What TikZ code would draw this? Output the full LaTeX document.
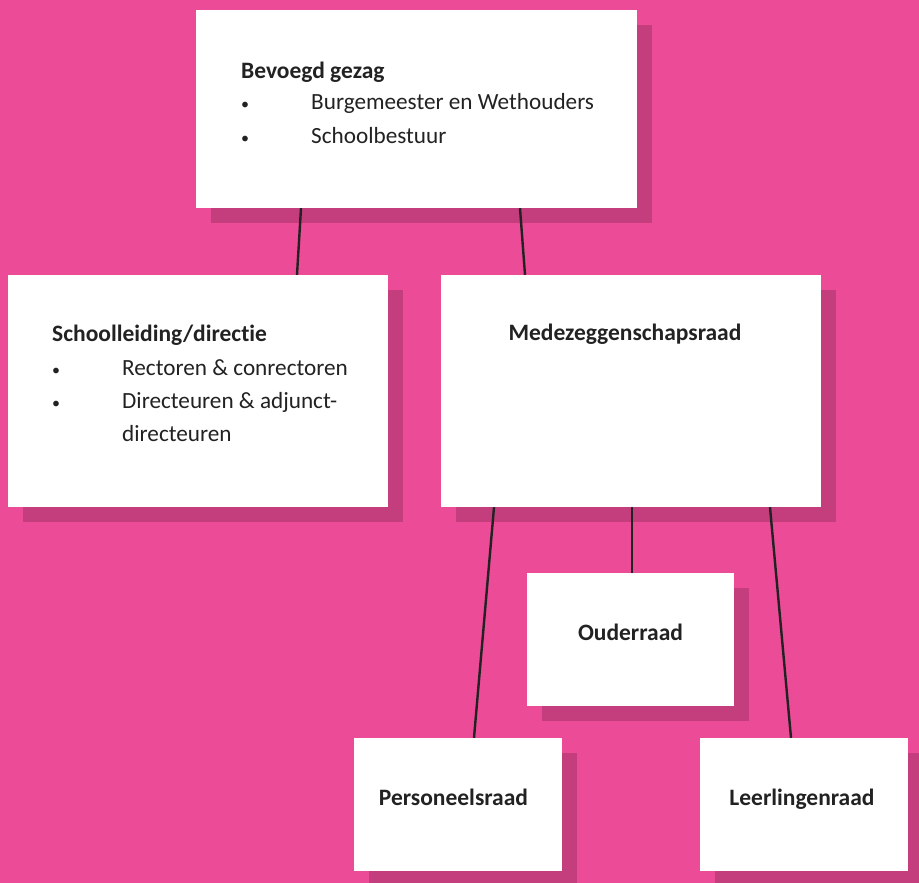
\documentclass[tikz,border=0pt]{standalone}
\usepackage{fontspec}
\setmainfont[Ligatures={NoCommon}]{Carlito}
\usetikzlibrary{calc}
\definecolor{bgpink}{HTML}{EC4B98}
\definecolor{shadowpink}{HTML}{C43E7E}
\definecolor{ink}{HTML}{222222}
\pgfdeclarelayer{shadowlayer}
\pgfdeclarelayer{linelayer}
\pgfsetlayers{shadowlayer,linelayer,main}
\begin{document}
\begin{tikzpicture}[x=1pt,y=-1pt,
  box/.style={fill=white, inner sep=0pt, draw=none},
  conn/.style={draw=ink, line width=2.4pt},
  lbl/.style={inner sep=0pt, anchor=base west, text=ink, font=\fontsize{23.2}{28}\selectfont},
  ttl/.style={inner sep=0pt, text=ink, font=\fontsize{23.5}{28}\selectfont\bfseries},
  bul/.style={inner sep=0pt, anchor=base west, text=ink, font=\fontsize{16}{24}\selectfont}]
\useasboundingbox (0,0) rectangle (919,883);
% boxes
\node[box, minimum width=441pt, minimum height=198pt] (top) at (416.5,109) {};
\node[box, minimum width=380pt, minimum height=232pt] (left) at (198,391) {};
\node[box, minimum width=380pt, minimum height=232pt] (mede) at (631,391) {};
\node[box, minimum width=207pt, minimum height=133pt] (ouder) at (630.5,639.5) {};
\node[box, minimum width=208pt, minimum height=133pt] (pers) at (458,804.5) {};
\node[box, minimum width=208pt, minimum height=133pt] (leer) at (804,804.5) {};
% background and shadows
\begin{pgfonlayer}{shadowlayer}
\fill[bgpink] (0,0) rectangle (919,883);
\foreach \n in {top,left,mede,ouder,pers,leer}{
  \fill[shadowpink] ($(\n.north west)+(15,15)$) rectangle ($(\n.south east)+(15,15)$);
}
\end{pgfonlayer}
% connectors
\begin{pgfonlayer}{linelayer}
\draw[conn] ([xshift=-115.5pt]top.south) -- ([xshift=99pt]left.north);
\draw[conn] ([xshift=103.5pt]top.south) -- ([xshift=-106pt]mede.north);
\draw[conn] ([xshift=-137pt]mede.south) -- ([xshift=16pt]pers.north);
\draw[conn] ([xshift=1pt]mede.south) -- ([xshift=1.5pt]ouder.north);
\draw[conn] ([xshift=139pt]mede.south) -- ([xshift=-13pt]leer.north);
\end{pgfonlayer}
% texts: top box
\node[ttl, anchor=base west] (t1) at (241,78) {Bevoegd gezag};
\node[bul] (b1) at (241,110) {•};
\node[lbl] (t2) at (311,110) {Burgemeester en Wethouders};
\node[bul] (b2) at (241,143) {•};
\node[lbl] (t3) at (311,143) {Schoolbestuur};
% left box
\node[ttl, anchor=base west] (l1) at (52,341) {Schoolleiding/directie};
\node[bul] (lb1) at (52,375) {•};
\node[lbl] (l2) at (122,375) {Rectoren \& conrectoren};
\node[bul] (lb2) at (52,408) {•};
\node[lbl] (l3) at (122,408) {Directeuren \& adjunct-};
\node[lbl] (l4) at (122,441) {directeuren};
% other titles
\node[ttl, anchor=base] (m1) at (625,340) {Medezeggenschapsraad};
\node[ttl, anchor=base] (o1) at (630.5,640) {Ouderraad};
\node[ttl, anchor=base] (p1) at (453.5,805) {Personeelsraad};
\node[ttl, anchor=base] (r1) at (802,805) {Leerlingenraad};
\end{tikzpicture}
\end{document}
